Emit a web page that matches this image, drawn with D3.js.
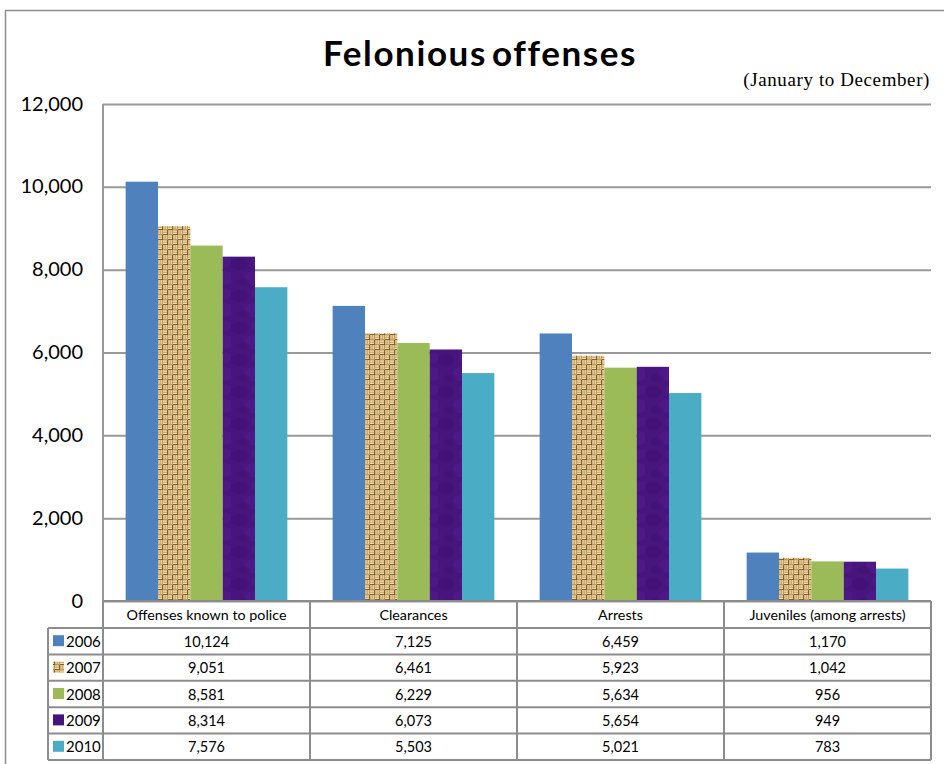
<!DOCTYPE html>
<html>
<head>
<meta charset="utf-8">
<script src="https://cdn.jsdelivr.net/npm/d3@7"></script>
<style>
  html, body { margin: 0; padding: 0; background: #fff; }
  svg { display: block; }
</style>
</head>
<body>
<svg id="chart" width="944" height="764"></svg>
<script>
const categories = ["Offenses known to police", "Clearances", "Arrests", "Juveniles (among arrests)"];
const years = ["2006", "2007", "2008", "2009", "2010"];
const v2006 = [10124, 7125, 6459, 1170];
const v2007 = [9051, 6461, 5923, 1042];
const v2008 = [8581, 6229, 5634, 956];
const v2009 = [8314, 6073, 5654, 949];
const v2010 = [7576, 5503, 5021, 783];
const seriesValues = [v2006, v2007, v2008, v2009, v2010];
const yTicks = [0, 2000, 4000, 6000, 8000, 10000, 12000];
const title = "Felonious offenses";
const subtitle = "(January to December)";

(function () {
const svg = d3.select("#chart");
const defs = svg.append("defs");

// burlap (basket weave) pattern for 2007
const pb = defs.append("pattern").attr("id", "burlap").attr("patternUnits", "userSpaceOnUse")
  .attr("width", 10).attr("height", 10);
pb.append("rect").attr("width", 10).attr("height", 10).attr("fill", "#bf9a60");
[[0,0.5,4,1.2],[0,2.7,4,1.2],[5,5.5,4,1.2],[5,7.7,4,1.2]].forEach(r => {
  pb.append("rect").attr("x", r[0]).attr("y", r[1]).attr("width", r[2]).attr("height", r[3]).attr("fill", "#f3e2b0");
});
[[5.5,0,1.2,4],[7.7,0,1.2,4],[0.5,5,1.2,4],[2.7,5,1.2,4]].forEach(r => {
  pb.append("rect").attr("x", r[0]).attr("y", r[1]).attr("width", r[2]).attr("height", r[3]).attr("fill", "#ecd49c");
});
[[4,0,1,5],[9,5,1,5],[0,4,5,1],[5,9,5,1]].forEach(r => {
  pb.append("rect").attr("x", r[0]).attr("y", r[1]).attr("width", r[2]).attr("height", r[3]).attr("fill", "#6e4e22").attr("opacity", 0.75);
});

// purple mottled pattern for 2009 (soft)
const pp = defs.append("pattern").attr("id", "purple").attr("patternUnits", "userSpaceOnUse")
  .attr("width", 32).attr("height", 32);
pp.append("rect").attr("width", 32).attr("height", 32).attr("fill", "#48157f");
[[8,8,9,6,"#3a0e6a"],[24,22,10,7,"#551d8e"],[12,26,7,4,"#3e1070"],[26,6,6,5,"#501a89"]].forEach(e => {
  pp.append("ellipse").attr("cx", e[0]).attr("cy", e[1]).attr("rx", e[2]).attr("ry", e[3]).attr("fill", e[4]).attr("opacity", 0.45);
});

const fills = ["#4f81bd", "url(#burlap)", "#9bbb59", "url(#purple)", "#4bacc6"];
const keyFills = ["#4f81bd", "url(#burlap)", "#9bbb59", "#46137a", "#4bacc6"];

// outer frame
svg.append("path").attr("d", "M5.5,764 L5.5,10.5 L944,10.5").attr("fill", "none").attr("stroke", "#8c8c8c").attr("stroke-width", 1.5);

const pL = 103, pR = 931, pT = 104, pB = 601;
const x0 = d3.scaleBand().domain(categories).range([pL, pR]).paddingInner(0).paddingOuter(0);
const x1 = d3.scaleBand().domain(years).range([0, x0.bandwidth()]).paddingOuter(0.7).paddingInner(0);
const y = d3.scaleLinear().domain([0, 12000]).range([pB, pT]);

// gridlines
const grid = svg.append("g").attr("transform", `translate(${pL},0)`)
  .call(d3.axisLeft(y).tickValues(yTicks).tickSize(-(pR - pL)).tickFormat(""));
grid.select(".domain").remove();
grid.selectAll(".tick line").attr("stroke", "#999").attr("stroke-width", 2);

// left axis line
svg.append("line").attr("x1", pL).attr("x2", pL).attr("y1", pT).attr("y2", pB)
  .attr("stroke", "#999").attr("stroke-width", 2);

// y tick labels
const yAxis = svg.append("g").attr("transform", `translate(${pL},0)`)
  .call(d3.axisLeft(y).tickValues(yTicks).tickSize(0).tickPadding(20).tickFormat(d3.format(",")));
yAxis.select(".domain").remove();
yAxis.selectAll("text").attr("font-family", "Lato, sans-serif").attr("font-size", 20).attr("fill", "#000")
  .attr("dy", "0.3em");

// bars
const groups = svg.append("g").selectAll("g").data(categories).join("g")
  .attr("transform", d => `translate(${x0(d)},0)`);
groups.selectAll("rect").data((c, ci) => years.map((yr, si) => ({ yr, si, v: seriesValues[si][ci] })))
  .join("rect")
  .attr("x", d => x1(d.yr))
  .attr("y", d => y(d.v))
  .attr("width", x1.bandwidth())
  .attr("height", d => y(0) - y(d.v))
  .attr("fill", d => fills[d.si]);

// title
svg.append("text").attr("x", 480).attr("y", 66).attr("text-anchor", "middle")
  .attr("font-family", "Lato, sans-serif").attr("font-weight", "bold").attr("font-size", 35)
  .attr("letter-spacing", 1.6).attr("word-spacing", -5)
  .attr("fill", "#000").text(title);
svg.append("text").attr("x", 930).attr("y", 86).attr("text-anchor", "end")
  .attr("font-family", "'Liberation Serif', serif").attr("font-size", 19)
  .attr("letter-spacing", 0.6)
  .attr("fill", "#000").text(subtitle);

// data table
const tableLeft = 48;
const headerH = 27;
const rowH = 26.4;
const tbl = svg.append("g");
const lineColor = "#8c8c8c";
tbl.append("line").attr("x1", pL).attr("x2", pR).attr("y1", pB).attr("y2", pB).attr("stroke", lineColor).attr("stroke-width", 2);
const rowTops = years.map((_, i) => pB + headerH + i * rowH);
const tableBottom = pB + headerH + years.length * rowH;
[pB + headerH].concat(years.map((_, i) => pB + headerH + (i + 1) * rowH)).forEach(yy => {
  tbl.append("line").attr("x1", tableLeft).attr("x2", pR).attr("y1", yy).attr("y2", yy).attr("stroke", lineColor).attr("stroke-width", 2);
});
tbl.append("line").attr("x1", tableLeft).attr("x2", tableLeft).attr("y1", pB + headerH).attr("y2", tableBottom).attr("stroke", lineColor).attr("stroke-width", 2);
categories.forEach(c => {
  tbl.append("line").attr("x1", x0(c)).attr("x2", x0(c)).attr("y1", pB).attr("y2", tableBottom).attr("stroke", lineColor).attr("stroke-width", 2);
});
tbl.append("line").attr("x1", pR).attr("x2", pR).attr("y1", pB).attr("y2", tableBottom).attr("stroke", lineColor).attr("stroke-width", 2);

tbl.selectAll("text.hdr").data(categories).join("text").attr("class", "hdr")
  .attr("x", d => x0(d) + x0.bandwidth() / 2).attr("y", pB + headerH / 2 + 5)
  .attr("text-anchor", "middle").attr("font-family", "Lato, sans-serif").attr("font-size", 14.3)
  .attr("fill", "#000").text(d => d);

years.forEach((yr, si) => {
  const ty = rowTops[si];
  tbl.append("rect").attr("x", tableLeft + 5).attr("y", ty + rowH / 2 - 6).attr("width", 11).attr("height", 11)
    .attr("fill", keyFills[si]);
  tbl.append("text").attr("x", tableLeft + 18).attr("y", ty + rowH / 2 + 5.5)
    .attr("font-family", "Lato, sans-serif").attr("font-size", 15).attr("fill", "#000").text(yr);
  categories.forEach((c, ci) => {
    tbl.append("text").attr("x", x0(c) + x0.bandwidth() / 2).attr("y", ty + rowH / 2 + 5.5)
      .attr("text-anchor", "middle").attr("font-family", "Lato, sans-serif").attr("font-size", 14.5)
      .attr("fill", "#000").text(d3.format(",")(seriesValues[si][ci]));
  });
});
})();
</script>
</body>
</html>
